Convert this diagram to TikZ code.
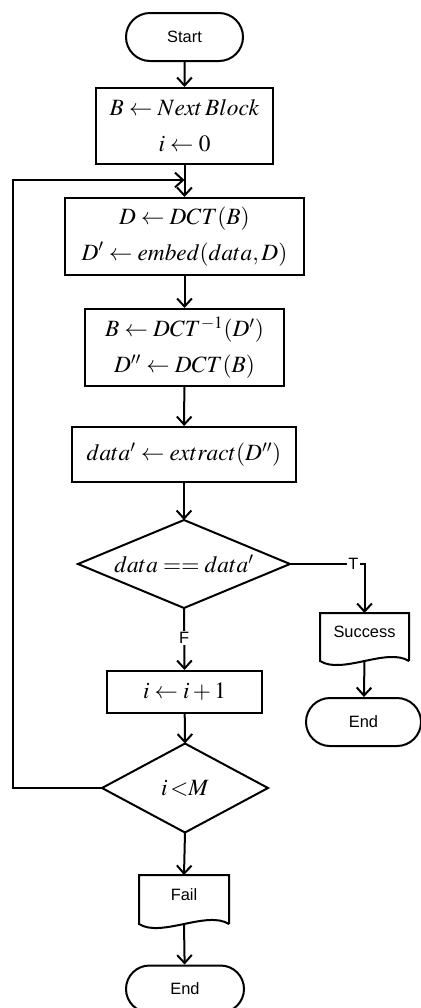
\documentclass[tikz,border=0pt]{standalone}
\usepackage{mathptmx}
\usepackage{fontspec}
\setsansfont{Liberation Sans}
\usetikzlibrary{shapes.geometric,shapes.misc,arrows.meta,calc}
\newcommand\fcmath{\fontsize{17.5pt}{27pt}\selectfont}
\newcommand\fclab{\sffamily\fontsize{12.3pt}{14pt}\selectfont}
\tikzset{
  proc/.style={draw, rectangle, inner sep=0pt, font=\fcmath, align=center},
  term/.style={draw, rounded rectangle, inner sep=0pt, font=\fclab},
  dec/.style={rectangle, inner sep=0pt, font=\fcmath},
  docu/.style={inner sep=0pt, font=\fclab},
  arr/.style={-{Straight Barb[length=6pt,width=11pt]}},
  lab/.style={font=\fclab, fill=white, inner sep=1pt}
}
\begin{document}
\begin{tikzpicture}[x=0.75pt,y=-0.75pt,line width=1.5pt]
\useasboundingbox (0,0) rectangle (421,1008);
% nodes
\node[term, minimum width=87.75pt, minimum height=36pt] (start) at (184.5,37) {Start};
\node[proc, minimum width=132.75pt, minimum height=57pt] (b1) at (184.5,126)
  {$B\leftarrow Next\,Block$\\$i\leftarrow 0$};
\node[proc, minimum width=179.25pt, minimum height=57.75pt] (b2) at (184.5,236.5)
  {$D\leftarrow DCT(B)$\\$D'\leftarrow embed(data,D)$};
\node[proc, minimum width=149.25pt, minimum height=57.75pt] (b3) at (184.5,347.5)
  {$B\leftarrow DCT^{-1}(D')$\\$D''\leftarrow DCT(B)$};
\node[proc, minimum width=168pt, minimum height=41.25pt] (b4) at (184,454.5)
  {$data'\leftarrow extract(D'')$};
\node[dec, minimum width=157.5pt, minimum height=64.5pt] (d1) at (184,564)
  {$data == data'$};
\node[proc, minimum width=116.25pt, minimum height=31.5pt] (b5) at (184.5,692)
  {$i\leftarrow i+1$};
\node[dec, minimum width=123pt, minimum height=65.25pt] (d2) at (185,788)
  {$i\,{<}M$};
\node[docu, minimum width=66pt, text height=18pt, text depth=17.25pt] (fail) at (184,899.5) {Fail};
\node[term, minimum width=88.5pt, minimum height=35.25pt] (end1) at (185,989) {End};
\node[docu, minimum width=65.25pt, text height=17.6pt, text depth=16.9pt] (succ) at (364.5,637) {Success};
\node[term, minimum width=86.25pt, minimum height=36pt] (end2) at (363.5,722) {End};
% decision outlines
\draw (d1.north) -- (d1.east) -- (d1.south) -- (d1.west) -- cycle;
\draw (d2.north) -- (d2.east) -- (d2.south) -- (d2.west) -- cycle;
% document outlines
\draw (fail.south east) -- (fail.north east) -- (fail.north west) -- (fail.south west)
  .. controls +(22,14) and +(-22,-14) .. (fail.south east);
\draw (succ.south east) -- (succ.north east) -- (succ.north west) -- (succ.south west)
  .. controls +(22,14) and +(-22,-14) .. (succ.south east);
% connectors
\draw[arr] (start) -- (b1);
\draw[arr] (b1) -- (b2);
\draw[arr] (b2) -- (b3);
\draw[arr] (b3) -- (b4);
\draw[arr] (b4) -- (d1.north);
\draw[arr] (d1.east) -- node[lab, pos=0.85] {T} (d1.east -| succ.north) -- (succ.north);
\draw[arr] (d1.south) -- node[lab, pos=0.48] {F} (b5.north);
\draw[arr] (b5) -- (d2.north);
\draw[arr] (d2.south) -- (fail.north);
\draw[arr] (fail.south) -- (end1);
\draw[arr] (succ.south) -- (end2);
\coordinate (lx) at (13,180);
\draw[arr] (d2.west) -| (lx) -- (b1.south |- lx);
\end{tikzpicture}
\end{document}
